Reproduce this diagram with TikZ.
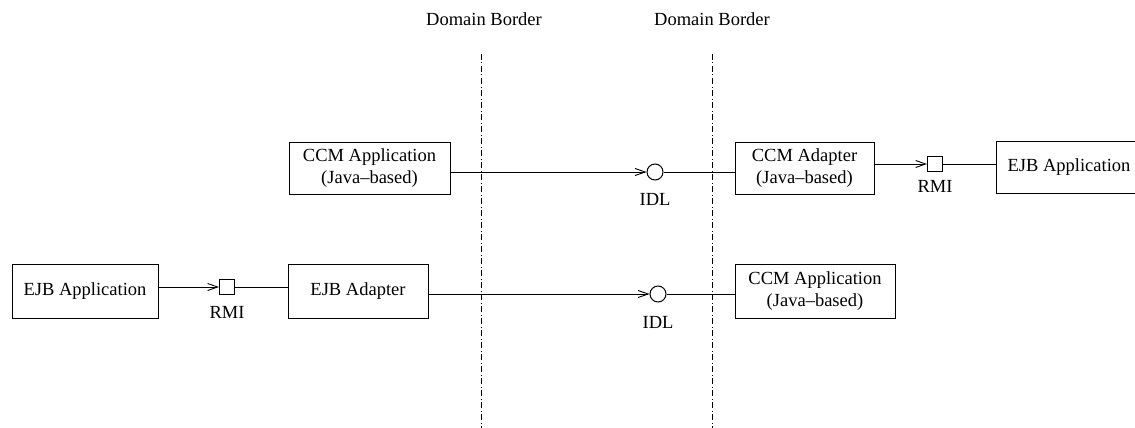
\documentclass[tikz,border=0pt]{standalone}
\usepackage{fontspec}
\setmainfont{Liberation Serif}
\usetikzlibrary{arrows.meta}
\begin{document}
\begin{tikzpicture}[x=1pt,y=-1pt,
  line width=1pt,
  every node/.style={font=\fontsize{18.5}{22}\selectfont, inner sep=0pt},
  box/.style={draw, align=center, minimum height=52pt},
  port/.style={draw, fill=white, minimum size=15pt},
  iface/.style={draw, circle, fill=white, minimum size=16pt},
  border/.style={line width=0.9pt, dash pattern=on 6pt off 2.5pt on 1pt off 2.5pt},
  call/.style={-{Straight Barb[length=10pt,width=7pt,line width=0.9pt]}},
  lbl/.style={}]
\useasboundingbox (0,0) rectangle (1135,428);

% domain borders
\coordinate (b1top) at (481,54);
\coordinate (b1bot) at (481,428);
\coordinate (b2top) at (712,54);
\coordinate (b2bot) at (712,428);
\draw[border] (b1top) -- (b1bot);
\draw[border] (b2top) -- (b2bot);
\node (lb1) at (484,19) {Domain Border};
\node (lb2) at (712,19) {Domain Border};

% upper scenario: CCM client calling an EJB through a CCM adapter
\node[box, minimum width=161pt] (ccmapp) at (369.5,168) {CCM Application\\(Java--based)};
\node[iface] (idl1) at (655,172) {};
\node[lbl] (idl1l) at (655,199) {IDL};
\node[box, minimum width=139pt] (ccmad) at (804.5,168) {CCM Adapter\\(Java--based)};
\node[port] (rmi1) at (935,164) {};
\node[lbl] (rmi1l) at (935,186) {RMI};
\node[box, minimum width=146pt] (ejbapp2) at (1069,167) {EJB Application};

\draw[call] (ccmapp.east |- idl1) -- (idl1.west);
\draw (idl1.east) -- (ccmad.west |- idl1);
\draw[call] (ccmad.east |- rmi1) -- (rmi1.west);
\draw (rmi1.east) -- (ejbapp2.west |- rmi1);

% lower scenario: EJB client calling a CCM component through an EJB adapter
\node[box, minimum width=146pt, minimum height=54pt] (ejbapp) at (85,291) {EJB Application};
\node[port] (rmi2) at (227,287) {};
\node[lbl] (rmi2l) at (227,312) {RMI};
\node[box, minimum width=140pt, minimum height=54pt] (ejbad) at (358,291) {EJB Adapter};
\node[iface] (idl2) at (658,294) {};
\node[lbl] (idl2l) at (658,322) {IDL};
\node[box, minimum width=160pt, minimum height=54pt] (ccmapp2) at (815,291) {CCM Application\\(Java--based)};

\draw[call] (ejbapp.east |- rmi2) -- (rmi2.west);
\draw (rmi2.east) -- (ejbad.west |- rmi2);
\draw[call] (ejbad.east |- idl2) -- (idl2.west);
\draw (idl2.east) -- (ccmapp2.west |- idl2);
\end{tikzpicture}
\end{document}
